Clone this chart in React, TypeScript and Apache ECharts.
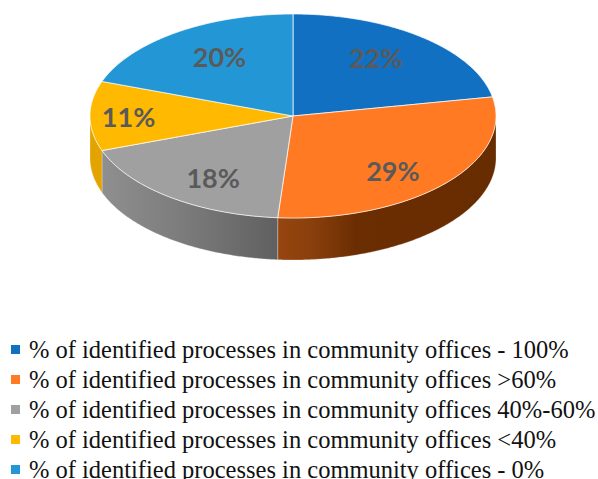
import React, { useEffect, useRef } from "react";
import * as echarts from "echarts";

const sliceNames = [
  "% of identified processes in community offices - 100%",
  "% of identified processes in community offices >60%",
  "% of identified processes in community offices 40%-60%",
  "% of identified processes in community offices <40%",
  "% of identified processes in community offices - 0%",
];
const sliceValues = [22, 29.2, 18.3, 11, 19.5];
const sliceColors = ["#1170C1", "#FF7A22", "#A0A0A0", "#FFB900", "#2397D6"];

const CX = 293;
const CY = 116;
const RX = 203;
const RY = 102;
const DEPTH = 42;
const labelFactorX = [0.64, 0.66, 0.65, 0.81, 0.63];
const labelFactorY = [0.74, 0.8, 0.76, 0.8, 0.71];

const total = sliceValues.reduce((a, b) => a + b, 0);
const pointAt = (deg: number, dy = 0): number[] => {
  const r = (deg * Math.PI) / 180;
  return [CX + RX * Math.sin(r), CY - RY * Math.cos(r) + dy];
};
const arc = (a0: number, a1: number, dy = 0): number[][] => {
  const pts: number[][] = [];
  const n = Math.max(2, Math.ceil((a1 - a0) * 2));
  for (let i = 0; i <= n; i++) pts.push(pointAt(a0 + ((a1 - a0) * i) / n, dy));
  return pts;
};

const sideFills: any[] = [
  null,
  new echarts.graphic.LinearGradient(
    277, 0, 495, 0,
    [
      { offset: 0, color: "#96460F" },
      { offset: 0.16, color: "#8A3F0C" },
      { offset: 0.36, color: "#6B2E02" },
      { offset: 1, color: "#682C01" },
    ],
    true
  ),
  new echarts.graphic.LinearGradient(
    102, 0, 277, 0,
    [
      { offset: 0, color: "#8F8F8F" },
      { offset: 0.5, color: "#7A7A7A" },
      { offset: 1, color: "#606060" },
    ],
    true
  ),
  "#E3A300",
  null,
];

const makeRender = (index: number) => (_params: any, api: any) => {
  const before = sliceValues.slice(0, index).reduce((a, b) => a + b, 0);
  const a0 = (before / total) * 360;
  const a1 = a0 + (Number(api.value(0)) / total) * 360;
  const children: any[] = [];
  const s0 = Math.max(a0, 90);
  const s1 = Math.min(a1, 270);
  if (s1 > s0) {
    const top = arc(s0, s1);
    const bottom = arc(s0, s1, DEPTH).reverse();
    children.push({
      type: "polygon",
      shape: { points: top.concat(bottom) },
      style: { fill: sideFills[index], stroke: "rgba(255,255,255,0.45)", lineWidth: 0.6 },
    });
  }
  children.push({
    type: "polygon",
    shape: { points: [[CX, CY], ...arc(a0, a1)] },
    style: { fill: sliceColors[index], stroke: "rgba(255,255,255,0.7)", lineWidth: 1 },
  });
  const mid = (((a0 + a1) / 2) * Math.PI) / 180;
  children.push({
    type: "text",
    style: {
      text: `${Math.round(sliceValues[index])}%`,
      x: CX + RX * labelFactorX[index] * Math.sin(mid),
      y: CY - RY * labelFactorY[index] * Math.cos(mid),
      fill: "#5A5A5A",
      font: 'bold 27px Lato, "Open Sans", sans-serif',
      textAlign: "center",
      textVerticalAlign: "middle",
    },
  });
  return { type: "group", children };
};

export default function App() {
  const ref = useRef<HTMLDivElement>(null);
  useEffect(() => {
    const chart = echarts.init(ref.current!, undefined, { renderer: "svg" });
    chart.setOption({
      animation: false,
      backgroundColor: "#ffffff",
      legend: {
        orient: "vertical",
        left: 11,
        top: 337,
        height: 200,
        padding: 0,
        itemGap: 5,
        itemWidth: 9,
        itemHeight: 9,
        selectedMode: false,
        icon: "rect",
        data: sliceNames.map((name, i) => ({ name, itemStyle: { color: sliceColors[i] } })),
        textStyle: {
          fontFamily: '"Liberation Serif", serif',
          fontSize: 24.5,
          lineHeight: 21,
          color: "#111111",
          padding: [0, 0, 0, 4],
        },
      },
      series: sliceNames.map((name, i) => ({
        type: "custom",
        name,
        coordinateSystem: "none",
        silent: true,
        itemStyle: { color: sliceColors[i] },
        data: [[sliceValues[i]]],
        renderItem: makeRender(i),
      })),
    });
    return () => chart.dispose();
  }, []);
  return <div ref={ref} style={{ position: "absolute", left: 0, top: 0, width: 598, height: 479 }} />;
}
